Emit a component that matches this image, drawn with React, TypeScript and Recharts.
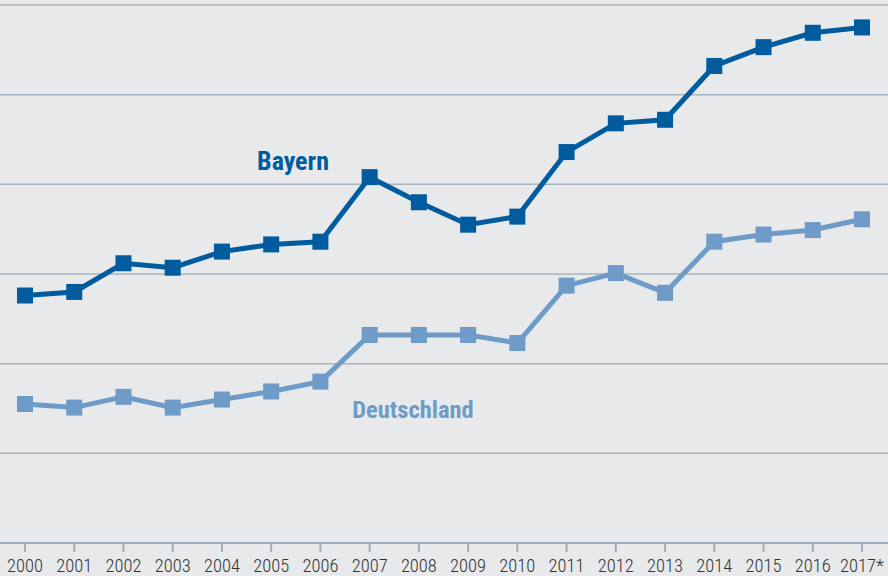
import React from "react";
import { LineChart, Line, XAxis, YAxis, CartesianGrid } from "recharts";

const years = ["2000","2001","2002","2003","2004","2005","2006","2007","2008","2009","2010","2011","2012","2013","2014","2015","2016","2017*"];
const bayern = [2.76,2.80,3.12,3.07,3.25,3.33,3.36,4.08,3.80,3.55,3.64,4.36,4.68,4.72,5.32,5.53,5.69,5.75];
const deutschland = [1.55,1.51,1.63,1.51,1.60,1.69,1.80,2.32,2.32,2.32,2.23,2.87,3.01,2.79,3.36,3.44,3.49,3.61];
const yTicks = [0,1,2,3,4,5,6];

const data = years.map((y, i) => ({ year: y, bayern: bayern[i], deutschland: deutschland[i] }));

const DARK = "#005C9E";
const LIGHT = "#6F9BC8";

const makeDot = (color: string) => (props: any) => {
  const { cx, cy, index } = props;
  return <rect key={`d-${color}-${index}`} x={cx - 8} y={cy - 8} width={16} height={16} fill={color} />;
};

const FONT = "'Roboto Condensed', 'Roboto', sans-serif";

export default function App() {
  return (
    <div style={{ position: "absolute", left: 0, top: 0, width: 888, height: 576, background: "#E8E9EB" }}>
      <LineChart width={888} height={576} data={data} margin={{ top: 5, right: 0, bottom: 3, left: 0 }}>
        <CartesianGrid horizontal vertical={false} stroke="#A7B3BF" strokeWidth={1.5} />
        <XAxis
          dataKey="year"
          height={30}
          padding={{ left: 25, right: 26 }}
          stroke="#9DAEBC"
          strokeWidth={2}
          tickLine={{ stroke: "#9DAEBC", strokeWidth: 2 }}
          tickSize={9}
          interval={0}
          tick={{ fill: "#333333", fontSize: 18.5, fontFamily: FONT, fontWeight: 300 }}
          tickMargin={7}
        />
        <YAxis hide domain={[0, 6]} ticks={yTicks} />
        <Line
          dataKey="deutschland"
          stroke={LIGHT}
          strokeWidth={5}
          dot={makeDot(LIGHT)}
          activeDot={false}
          isAnimationActive={false}
        />
        <Line
          dataKey="bayern"
          stroke={DARK}
          strokeWidth={5}
          dot={makeDot(DARK)}
          activeDot={false}
          isAnimationActive={false}
        />
        <text x={293} y={170} textAnchor="middle" fill={DARK} fontSize={26} fontWeight="bold" fontFamily={FONT}>Bayern</text>
        <text x={413} y={418} textAnchor="middle" fill={LIGHT} fontSize={24.5} fontWeight="bold" fontFamily={FONT}>Deutschland</text>
      </LineChart>
    </div>
  );
}
